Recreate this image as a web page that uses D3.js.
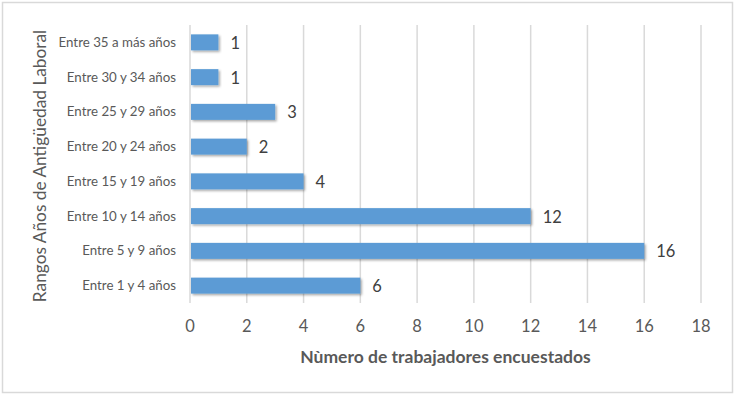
<!DOCTYPE html>
<html>
<head>
<meta charset="utf-8">
<script src="https://cdn.jsdelivr.net/npm/d3@7"></script>
<style>
  body { margin: 0; background: #fff; }
  text { font-family: Lato, "Open Sans", sans-serif; }
</style>
</head>
<body>
<svg id="chart"></svg>
<script>
// categories from top to bottom
const categories = ["Entre 35 a más años", "Entre 30 y 34 años", "Entre 25 y 29 años",
  "Entre 20 y 24 años", "Entre 15 y 19 años", "Entre 10 y 14 años",
  "Entre 5 y 9 años", "Entre 1 y 4 años"];
const values = [1, 1, 3, 2, 4, 12, 16, 6];
const xTicks = [0, 2, 4, 6, 8, 10, 12, 14, 16, 18];

const svgWidth = 735;
const svgHeight = 395;
const margin = { top: 25, right: 34, bottom: 92, left: 190 };

const svg = d3.select("#chart")
  .attr("width", svgWidth)
  .attr("height", svgHeight);

// outer frame
svg.append("rect")
  .attr("x", 2.5).attr("y", 2.5)
  .attr("width", svgWidth - 5).attr("height", svgHeight - 5)
  .attr("fill", "#fff").attr("stroke", "#d9d9d9").attr("stroke-width", 1.5);

// shadow for bars
const defs = svg.append("defs");
const f = defs.append("filter").attr("id", "shadow")
  .attr("x", "-5%").attr("y", "-30%").attr("width", "115%").attr("height", "180%");
f.append("feDropShadow").attr("dx", 1.5).attr("dy", 1.5).attr("stdDeviation", 1.2)
  .attr("flood-color", "#000").attr("flood-opacity", 0.35);

const x = d3.scaleLinear()
  .domain([0, 18])
  .range([margin.left, svgWidth - margin.right]);

const y = d3.scaleBand()
  .domain(categories)
  .range([margin.top, svgHeight - margin.bottom])
  .paddingInner(0.54)
  .paddingOuter(0.27);

// gridlines
svg.append("g")
  .selectAll("line")
  .data(xTicks)
  .enter().append("line")
  .attr("x1", d => x(d)).attr("x2", d => x(d))
  .attr("y1", margin.top).attr("y2", svgHeight - margin.bottom)
  .attr("stroke", "#d9d9d9").attr("stroke-width", 1.5);

// x tick labels
svg.append("g")
  .selectAll("text")
  .data(xTicks)
  .enter().append("text")
  .attr("x", d => x(d))
  .attr("y", 332)
  .attr("text-anchor", "middle")
  .attr("font-size", 16.5)
  .attr("fill", "#595959")
  .text(d => d);

// bars
svg.append("g")
  .selectAll("rect")
  .data(categories)
  .enter().append("rect")
  .attr("x", x(0) + 1)
  .attr("y", d => y(d))
  .attr("width", (d, i) => x(values[i]) - x(0) - 1)
  .attr("height", y.bandwidth())
  .attr("fill", "#5b9bd5")
  .attr("filter", "url(#shadow)");

// value labels
svg.append("g")
  .selectAll("text")
  .data(categories)
  .enter().append("text")
  .attr("x", (d, i) => x(values[i]) + 12)
  .attr("y", d => y(d) + y.bandwidth() / 2 + 6.5)
  .attr("font-size", 16.5)
  .attr("fill", "#404040")
  .text((d, i) => values[i]);

// category labels
svg.append("g")
  .selectAll("text")
  .data(categories)
  .enter().append("text")
  .attr("x", 176)
  .attr("y", d => y(d) + y.bandwidth() / 2 + 4.5)
  .attr("text-anchor", "end")
  .attr("font-size", 13.3)
  .attr("fill", "#595959")
  .text(d => d);

// axis titles
svg.append("text")
  .attr("x", (x(0) + x(18)) / 2)
  .attr("y", 363)
  .attr("text-anchor", "middle")
  .attr("font-size", 17.5)
  .attr("font-weight", "bold")
  .attr("fill", "#595959")
  .text("Nùmero de trabajadores encuestados");

svg.append("text")
  .attr("transform", `translate(46, ${(margin.top + svgHeight - margin.bottom) / 2 + 2}) rotate(-90)`)
  .attr("text-anchor", "middle")
  .attr("font-size", 17.3)
  .attr("fill", "#595959")
  .text("Rangos Años de Antigüedad Laboral");
</script>
</body>
</html>
